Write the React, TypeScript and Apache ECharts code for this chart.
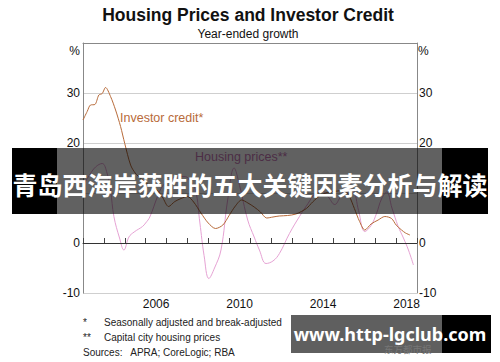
import React, { useEffect, useRef } from "react";
import * as echarts from "echarts";

const yearCategories = ["2003","2004","2005","2006","2007","2008","2009","2010","2011","2012","2013","2014","2015","2016","2017","2018"];
const labelledYears = ["2006", "2010", "2014", "2018"];

const investorDates = [2003.0,2003.2,2003.36,2003.57,2003.76,2003.92,2004.08,2004.32,2004.56,2004.8,2005.0,2005.28,2005.5,2005.8,2006.1,2006.45,2006.8,2007.1,2007.4,2007.7,2008.0,2008.3,2008.65,2009.0,2009.35,2009.7,2010.0,2010.3,2010.6,2010.9,2011.2,2011.5,2011.8,2012.1,2012.4,2012.8,2013.2,2013.7,2014.0,2014.4,2014.8,2015.2,2015.5,2015.75,2016.0,2016.25,2016.5,2016.8,2017.14,2017.46,2017.78,2018.0,2018.26,2018.45,2018.66];
const investorValues = [24.6,26.3,27.6,27.7,29.6,29.9,31.1,29.3,26.6,23.3,19.9,15.6,14.0,12.8,11.8,11.0,9.2,7.3,8.3,8.9,9.3,8.2,6.0,4.0,2.9,3.6,5.5,7.4,8.6,8.0,7.2,6.2,5.0,5.2,5.4,5.5,5.8,6.9,8.2,9.6,10.2,10.4,10.6,9.4,6.9,4.3,2.6,3.8,4.6,5.3,4.9,3.6,2.6,2.0,1.6];

const housingDates = [2003.0,2003.3,2003.6,2003.92,2004.15,2004.32,2004.48,2004.75,2004.96,2005.2,2005.45,2005.85,2006.0,2006.2,2006.57,2006.8,2007.1,2007.5,2007.9,2008.15,2008.39,2008.6,2008.8,2009.03,2009.3,2009.61,2009.93,2010.24,2010.5,2010.89,2011.2,2011.45,2011.77,2012.1,2012.41,2012.89,2013.37,2013.78,2014.1,2014.45,2014.75,2015.06,2015.35,2015.7,2015.94,2016.2,2016.5,2016.8,2017.06,2017.3,2017.55,2017.8,2018.1,2018.35,2018.59,2018.83];
const housingValues = [11.5,13.5,15.2,15.9,14.0,10.5,5.3,1.0,-1.4,1.2,2.2,3.3,4.0,5.2,9.3,11.3,12.5,13.2,13.3,12.2,10.6,4.0,-2.5,-7.1,-5.0,-1.4,8.6,15.0,11.5,4.6,1.2,-1.4,-4.1,-3.6,-2.1,1.9,5.3,7.9,9.8,10.4,9.2,7.7,9.3,10.8,10.6,6.5,2.3,3.5,5.9,8.8,10.2,7.0,3.3,1.0,-1.4,-4.4];

const footnotes = [
  ["*", "Seasonally adjusted and break-adjusted"],
  ["**", "Capital city housing prices"],
];
const sourcesText = "Sources:   APRA; CoreLogic; RBA";

const FONT = "'Liberation Sans', Arial, sans-serif";
const BROWN = "#b86b3a";
const PINK = "#e6a2d4";

export default function App() {
  const ref = useRef<HTMLDivElement>(null);

  useEffect(() => {
    if (!ref.current) return;
    const chart = echarts.init(ref.current, null, { renderer: "svg" });

    const investorData = investorDates.map((t, i) => [t, investorValues[i]]);
    const housingData = housingDates.map((t, i) => [t, housingValues[i]]);

    // "40" shows as "%" (drawn separately); "10" is hidden under the banner in the reference
    const yLabelFmt = (v: number) => (v === 40 || v === 10 ? "" : String(v));

    const footGraphics: any[] = [];
    footnotes.forEach((f, i) => {
      const y = 322.5 + i * 15;
      footGraphics.push({
        type: "text", x: 83, y, z: 50,
        style: { text: f[0], fill: "#222", font: `10px ${FONT}`, textAlign: "left", textVerticalAlign: "middle" },
      });
      footGraphics.push({
        type: "text", x: 104, y, z: 50,
        style: { text: f[1], fill: "#222", font: `10px ${FONT}`, textAlign: "left", textVerticalAlign: "middle" },
      });
    });
    footGraphics.push({
      type: "text", x: 83, y: 352, z: 50,
      style: { text: sourcesText, fill: "#222", font: `10px ${FONT}`, textAlign: "left", textVerticalAlign: "middle" },
    });

    chart.setOption({
      animation: false,
      backgroundColor: "#ffffff",
      grid: { left: 83, right: 83, top: 43, bottom: 69, containLabel: false },
      xAxis: [
        {
          type: "category",
          data: yearCategories,
          boundaryGap: true,
          position: "bottom",
          axisLine: { show: true, lineStyle: { color: "#444", width: 1 } },
          axisTick: { show: true, inside: true, length: 5, interval: 0, alignWithLabel: false, lineStyle: { color: "#444" } },
          axisLabel: {
            interval: (_i: number, v: string) => labelledYears.includes(v),
            color: "#111",
            fontSize: 12,
            fontFamily: FONT,
            margin: 5,
          },
          splitLine: { show: false },
        },
        {
          type: "value",
          min: 2003,
          max: 2019,
          position: "top",
          axisLine: { show: true, onZero: false, lineStyle: { color: "#888", width: 1 } },
          axisTick: { show: false },
          axisLabel: { show: false },
          splitLine: { show: false },
        },
      ],
      yAxis: [
        {
          type: "value",
          min: -10,
          max: 40,
          interval: 10,
          position: "left",
          axisLine: { show: true, onZero: false, lineStyle: { color: "#888", width: 1 } },
          axisTick: { show: false },
          axisLabel: { formatter: yLabelFmt, color: "#111", fontSize: 12, fontFamily: FONT, margin: 3 },
          splitLine: { show: true, lineStyle: { color: "#cfcfcf", width: 1 } },
        },
        {
          type: "value",
          min: -10,
          max: 40,
          interval: 10,
          position: "right",
          axisLine: { show: true, onZero: false, lineStyle: { color: "#888", width: 1 } },
          axisTick: { show: false },
          axisLabel: { formatter: yLabelFmt, color: "#111", fontSize: 12, fontFamily: FONT, margin: 2 },
          splitLine: { show: false },
        },
      ],
      series: [
        {
          name: "Housing prices",
          type: "line",
          xAxisIndex: 1,
          yAxisIndex: 0,
          data: housingData,
          smooth: 0.4,
          showSymbol: false,
          lineStyle: { color: PINK, width: 1 },
          z: 3,
        },
        {
          name: "Investor credit",
          type: "line",
          xAxisIndex: 1,
          yAxisIndex: 0,
          data: investorData,
          smooth: 0.3,
          showSymbol: false,
          lineStyle: { color: BROWN, width: 1 },
          z: 4,
          markLine: {
            silent: true,
            symbol: "none",
            label: { show: false },
            lineStyle: { color: "#333", type: "solid", width: 1 },
            data: [{ yAxis: 0 }],
          },
        },
      ],
      graphic: [
        {
          type: "text", x: 248, y: 15, z: 50,
          style: { text: "Housing Prices and Investor Credit", fill: "#111", font: `bold 17.5px ${FONT}`, textAlign: "center", textVerticalAlign: "middle" },
        },
        {
          type: "text", x: 248, y: 34, z: 50,
          style: { text: "Year-ended growth", fill: "#111", font: `12px ${FONT}`, textAlign: "center", textVerticalAlign: "middle" },
        },
        {
          type: "text", x: 80, y: 51, z: 50,
          style: { text: "%", fill: "#111", font: `12px ${FONT}`, textAlign: "right", textVerticalAlign: "middle" },
        },
        {
          type: "text", x: 418, y: 51, z: 50,
          style: { text: "%", fill: "#111", font: `12px ${FONT}`, textAlign: "left", textVerticalAlign: "middle" },
        },
        {
          type: "text", x: 120, y: 118, z: 50,
          style: { text: "Investor credit*", fill: BROWN, font: `12.5px ${FONT}`, textAlign: "left", textVerticalAlign: "middle" },
        },
        {
          type: "text", x: 195, y: 157, z: 50,
          style: { text: "Housing prices**", fill: "#c778b6", font: `12.5px ${FONT}`, textAlign: "left", textVerticalAlign: "middle" },
        },
        ...footGraphics,
        // overlay banner
        { type: "rect", z: 100, shape: { x: 12, y: 148, width: 45, height: 66 }, style: { fill: "#000" } },
        { type: "rect", z: 100, shape: { x: 442, y: 148, width: 46, height: 66 }, style: { fill: "#000" } },
        { type: "rect", z: 100, shape: { x: 57, y: 148, width: 385, height: 66 }, style: { fill: "rgba(0,0,0,0.62)" } },
        {
          type: "text", x: 250, y: 184, z: 101,
          style: { text: "青岛西海岸获胜的五大关键因素分析与解读", fill: "#fff", font: `bold 25px 'Noto Sans CJK SC', sans-serif`, textAlign: "center", textVerticalAlign: "middle" },
        },
        // bottom-right watermark
        { type: "rect", z: 100, shape: { x: 291, y: 315, width: 151, height: 38 }, style: { fill: "#5f5f5f" } },
        { type: "rect", z: 100, shape: { x: 442, y: 315, width: 49, height: 38 }, style: { fill: "#000" } },
        {
          type: "text", x: 384, y: 348.5, z: 101,
          style: { text: "东方都市报", fill: "#767676", font: `9.5px 'Noto Sans CJK SC', sans-serif`, textAlign: "left", textVerticalAlign: "middle" },
        },
        {
          type: "text", x: 390, y: 334, z: 102,
          style: { text: "www.http-lgclub.com", fill: "#fff", font: `bold 18px 'Noto Sans', sans-serif`, textAlign: "center", textVerticalAlign: "middle" },
        },
      ],
    });

    return () => chart.dispose();
  }, []);

  return (
    <div
      ref={ref}
      style={{ position: "fixed", left: 0, top: 0, width: 500, height: 362, background: "#fff" }}
    />
  );
}
